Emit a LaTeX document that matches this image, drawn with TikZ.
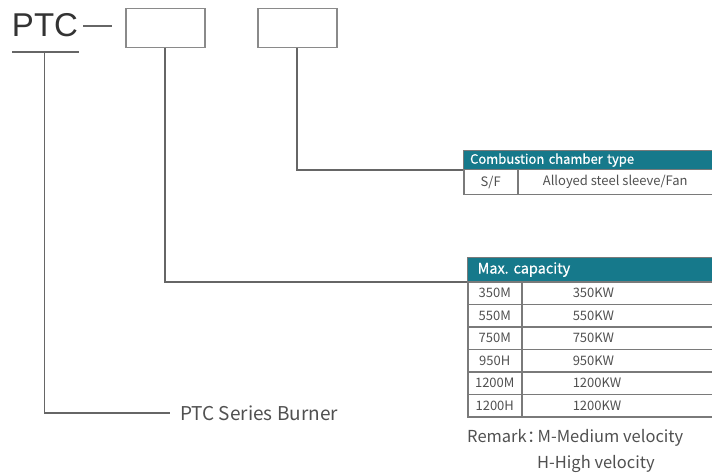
\documentclass[tikz,border=0pt]{standalone}
\usepackage{fontspec}
\setmainfont{Noto Sans CJK SC}
\newfontfamily\arialf{Liberation Sans}
\newfontfamily\headf[FakeBold=0.5]{Noto Sans CJK SC}
\definecolor{teal1}{HTML}{16798B}
\definecolor{linec}{HTML}{666666}
\definecolor{boxc}{HTML}{8A8A8A}
\definecolor{cellc}{HTML}{7A7A7A}
\definecolor{txtc}{HTML}{505050}
\frenchspacing
\begin{document}
\begin{tikzpicture}[x=1pt,y=-1pt,
  codebox/.style={draw=boxc,line width=1.5pt,minimum width=79pt,minimum height=39pt,inner sep=0pt,anchor=north west},
  conn/.style={draw=linec,line width=1.8pt},
  headc/.style={fill=teal1,draw=cellc,line width=1.2pt,text=white,font=\headf\fontsize{13}{15}\selectfont,inner sep=0pt,anchor=north west,align=left},
  cell/.style={draw=cellc,line width=1.5pt,text=txtc,font=\fontsize{13}{15}\selectfont,inner sep=0pt,anchor=north west},
  note/.style={text=txtc,inner sep=0pt}]
\useasboundingbox (0,0) rectangle (712,473);
% code line
\node[text=black!80,font=\arialf\fontsize{33}{36}\selectfont,inner sep=0pt,anchor=base] (ptc) at (45,37) {PTC};
\coordinate (dashA) at (83,26);
\coordinate (dashB) at (112,26);
\draw[conn,line width=1.5pt] (dashA) -- (dashB);
\node[codebox] (b1) at (125,8) {};
\node[codebox] (b2) at (257,8) {};
\coordinate (ulA) at (12,52);
\coordinate (ulB) at (79,52);
\coordinate (ulM) at (44.5,52);
\draw[conn] (ulA) -- (ulB);
% series
\node[note,font=\fontsize{19}{22}\selectfont,anchor=base west] (burner) at (180,420) {PTC Series Burner};
\coordinate (burnerL) at (170,413);
\draw[conn,line width=1.5pt] (ulM) |- (burnerL);
% table 1
\node[headc,minimum width=249pt,minimum height=19pt,text width=240pt] (t1h) at (463,150) {\hspace*{2pt}Combustion chamber type};
\node[cell,minimum width=54pt,minimum height=25pt] (t1a) at (463,169) {S/F};
\node[cell,minimum width=195pt,minimum height=25pt] (t1b) at (517,169) {Alloyed steel sleeve/Fan};
\draw[conn] (b2.south) |- (t1h.south west);
% table 2
\node[headc,minimum width=245pt,minimum height=24pt,text width=235pt,font=\headf\fontsize{14.5}{16}\selectfont] (t2h) at (467,257) {\hspace*{5pt}Max. capacity};
\foreach \i/\a/\b in {0/350M/350KW,1/550M/550KW,2/750M/750KW,3/950H/950KW,4/1200M/1200KW,5/1200H/1200KW}{
  \node[cell,minimum width=54pt,minimum height=22.5pt] (r\i a) at (467,281+22.5*\i) {\a};
  \node[cell,minimum width=191pt,minimum height=22.5pt,text width=89pt,align=left] (r\i b) at (521,281+22.5*\i) {\b};
}
\draw[conn] (b1.south) |- (t2h.south west);
% remark
\node[note,font=\fontsize{16.5}{19}\selectfont,anchor=base west] (rem1) at (467,442) {Remark\kern0.5pt：\kern-6pt M-Medium velocity};
\node[note,font=\fontsize{16.5}{19}\selectfont,anchor=base west] (rem2) at (537,468) {H-High velocity};
\end{tikzpicture}
\end{document}
